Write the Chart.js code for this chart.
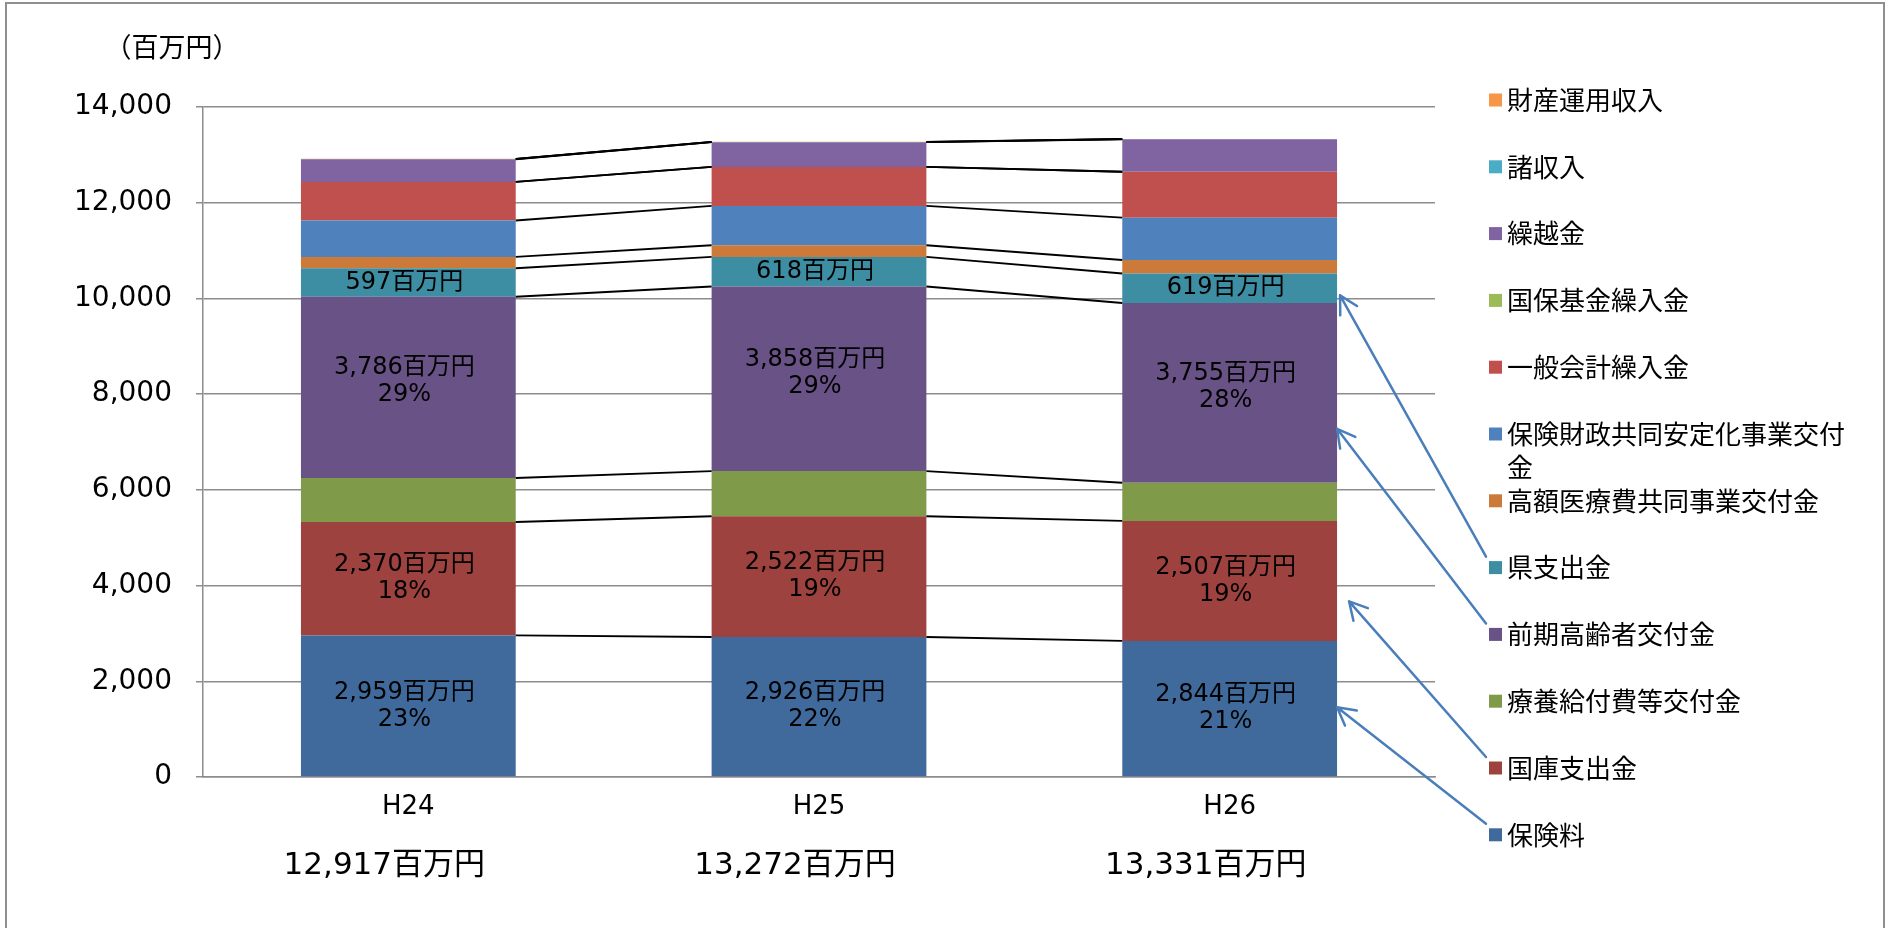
<!DOCTYPE html>
<html lang="ja">
<head>
<meta charset="utf-8">
<title>歳入の推移</title>
<script src="https://cdn.jsdelivr.net/npm/chart.js@4.4.1/dist/chart.umd.min.js"></script>
<style>
  html, body { margin: 0; padding: 0; background: #fff; }
  #wrap { position: relative; width: 1891px; height: 928px; }
</style>
</head>
<body>
<div id="wrap"><canvas id="revenueChart"></canvas></div>
<script>
// 年度
const years = ['H24', 'H25', 'H26'];

// 歳入内訳（百万円）— stacked from bottom to top
const hokenryo        = [2959, 2926, 2844]; // 保険料
const kokkoShishutsu  = [2370, 2522, 2507]; // 国庫支出金
const ryoyoKyufu      = [919, 944, 797];    // 療養給付費等交付金
const zenkiKoreisha   = [3786, 3858, 3755]; // 前期高齢者交付金
const kenShishutsu    = [597, 618, 619];    // 県支出金
const kogakuIryo      = [237, 243, 282];    // 高額医療費共同事業交付金
const hokenZaisei     = [759, 822, 884];    // 保険財政共同安定化事業交付金
const ippanKaikei     = [808, 815, 960];    // 一般会計繰入金
const kihonKikin      = [0, 0, 0];          // 国保基金繰入金
const kurikoshi       = [474, 518, 677];    // 繰越金
const shoShunyu       = [5, 4, 4];          // 諸収入
const zaisanUnyo      = [3, 2, 2];          // 財産運用収入

const seriesNames = [
  '保険料', '国庫支出金', '療養給付費等交付金', '前期高齢者交付金', '県支出金',
  '高額医療費共同事業交付金', '保険財政共同安定化事業交付金', '一般会計繰入金',
  '国保基金繰入金', '繰越金', '諸収入', '財産運用収入'
];
const seriesData = [
  hokenryo, kokkoShishutsu, ryoyoKyufu, zenkiKoreisha, kenShishutsu,
  kogakuIryo, hokenZaisei, ippanKaikei, kihonKikin, kurikoshi, shoShunyu, zaisanUnyo
];
const seriesColors = [
  '#416a9c', '#9d423f', '#7f9a49', '#695285', '#3d8da3', '#cb7a39',
  '#4f81bd', '#c0504d', '#9bbb59', '#8064a2', '#4bacc6', '#f79646'
];

// segments that carry a value label (and share of total)
const valueLabels = [
  { ds: 0, pct: true, dy: 0 },
  { ds: 1, pct: true, dy: 0 },
  { ds: 3, pct: true, dy: -6 },
  { ds: 4, pct: false, dy: 0 }
];

// callout arrows from legend entries to the last bar
const pointers = [
  { ds: 4, frac: 0.26, dx: 3 },
  { ds: 3, frac: 0.30, dx: 0 },
  { ds: 1, frac: 0.33, dx: 12 },
  { ds: 0, frac: 0.51, dx: 0 }
];

const LATIN = "'DejaVu Sans', 'Noto Sans CJK JP', sans-serif";
const JP = "'Noto Sans CJK JP', sans-serif";
const GRID = '#8c8c8c';
const fmt = n => n.toLocaleString('en-US');

const totalsOf = chart => chart.data.labels.map((_, j) =>
  chart.data.datasets.reduce((s, ds) => s + ds.data[j], 0));

// legend rows
const LEG_X = 1489, LEG_TOP = 100, LEG_STEP = 66.8;
const legendRowY = ds => LEG_TOP + (seriesNames.length - 1 - ds) * LEG_STEP;

function wrapChars(ctx, text, maxW) {
  const lines = [];
  let cur = '';
  for (const ch of text) {
    if (cur && ctx.measureText(cur + ch).width > maxW) { lines.push(cur); cur = ch; }
    else cur += ch;
  }
  if (cur) lines.push(cur);
  return lines;
}

// lines joining the segment tops of neighbouring bars
const seriesLines = {
  id: 'seriesLines',
  afterDatasetsDraw(chart) {
    const { ctx } = chart;
    ctx.save();
    ctx.strokeStyle = '#000';
    ctx.lineWidth = 1.9;
    chart.data.datasets.forEach((ds, i) => {
      const bars = chart.getDatasetMeta(i).data;
      for (let j = 0; j < bars.length - 1; j++) {
        const a = bars[j], b = bars[j + 1];
        ctx.beginPath();
        ctx.moveTo(a.x + a.width / 2, a.y);
        ctx.lineTo(b.x - b.width / 2, b.y);
        ctx.stroke();
      }
    });
    ctx.restore();
  }
};

const segmentLabels = {
  id: 'segmentLabels',
  afterDatasetsDraw(chart) {
    const { ctx } = chart;
    const totals = totalsOf(chart);
    ctx.save();
    ctx.font = `24px ${LATIN}`;
    ctx.fillStyle = '#000';
    ctx.textAlign = 'center';
    ctx.textBaseline = 'middle';
    valueLabels.forEach(({ ds, pct, dy }) => {
      chart.getDatasetMeta(ds).data.forEach((bar, j) => {
        const v = chart.data.datasets[ds].data[j];
        const lines = [fmt(v) + '百万円'];
        if (pct) lines.push(Math.round(v / totals[j] * 100) + '%');
        const cy = (bar.y + bar.base) / 2 + dy;
        lines.forEach((t, k) => ctx.fillText(t, bar.x - 4, cy + (k - (lines.length - 1) / 2) * 27));
      });
    });
    ctx.restore();
  }
};

const decorations = {
  id: 'decorations',
  afterDraw(chart) {
    const { ctx } = chart;
    const x = chart.scales.x;
    const totals = totalsOf(chart);
    ctx.save();

    // outer frame
    ctx.strokeStyle = '#8f8f8f';
    ctx.lineWidth = 2;
    ctx.strokeRect(6, 3, 1878, 960);

    // unit
    ctx.fillStyle = '#000';
    ctx.font = `27px ${JP}`;
    ctx.textAlign = 'center';
    ctx.textBaseline = 'middle';
    ctx.fillText('（百万円）', 172, 47);

    // yearly totals under the category labels
    ctx.font = `31px ${LATIN}`;
    totals.forEach((t, j) => {
      ctx.fillText(fmt(t) + '百万円', x.getPixelForValue(j) - 24, 866);
    });

    // legend, top of stack first
    ctx.font = `26px ${JP}`;
    ctx.textAlign = 'left';
    chart.data.datasets.forEach((ds, i) => {
      const y = legendRowY(i);
      ctx.fillStyle = ds.backgroundColor;
      ctx.fillRect(LEG_X, y - 6.5, 13, 13);
      ctx.fillStyle = '#000';
      wrapChars(ctx, ds.label, 352).forEach((line, k) => {
        ctx.fillText(line, LEG_X + 18, y + k * 33);
      });
    });

    // arrows
    ctx.strokeStyle = '#4a7ebb';
    ctx.lineWidth = 2.5;
    ctx.lineCap = 'round';
    pointers.forEach(({ ds, frac, dx }) => {
      const bars = chart.getDatasetMeta(ds).data;
      const bar = bars[bars.length - 1];
      const tx = bar.x + bar.width / 2 + dx;
      const ty = bar.base + (bar.y - bar.base) * frac;
      const sx = LEG_X - 3, sy = legendRowY(ds) - 11;
      const ang = Math.atan2(sy - ty, sx - tx);
      ctx.beginPath();
      ctx.moveTo(sx, sy);
      ctx.lineTo(tx, ty);
      [-0.5, 0.5].forEach(d => {
        ctx.moveTo(tx, ty);
        ctx.lineTo(tx + 20 * Math.cos(ang + d), ty + 20 * Math.sin(ang + d));
      });
      ctx.stroke();
    });

    ctx.restore();
  }
};

new Chart(document.getElementById('revenueChart'), {
  type: 'bar',
  data: {
    labels: years,
    datasets: seriesNames.map((name, i) => ({
      label: name,
      data: seriesData[i],
      backgroundColor: seriesColors[i],
      borderWidth: 0,
      categoryPercentage: 1,
      barPercentage: 0.523
    }))
  },
  options: {
    responsive: true,
    maintainAspectRatio: false,
    animation: false,
    layout: { padding: { top: 107, right: 456, bottom: 0, left: 0 } },
    plugins: { legend: { display: false }, tooltip: { enabled: false } },
    scales: {
      x: {
        stacked: true,
        grid: { display: false, drawTicks: false },
        border: { color: GRID, width: 1.5 },
        ticks: { color: '#000', font: { family: LATIN, size: 26 }, padding: 15 },
        afterFit: s => { s.height = 151; }
      },
      y: {
        stacked: true,
        min: 0,
        max: 14000,
        ticks: {
          stepSize: 2000,
          color: '#000',
          font: { family: LATIN, size: 28 },
          padding: 24,
          callback: v => fmt(v)
        },
        grid: { color: GRID, lineWidth: 1.5, tickLength: 7 },
        border: { color: GRID, width: 1.5 },
        afterFit: s => { s.width = 203; }
      }
    }
  },
  plugins: [seriesLines, segmentLabels, decorations]
});
</script>
</body>
</html>
